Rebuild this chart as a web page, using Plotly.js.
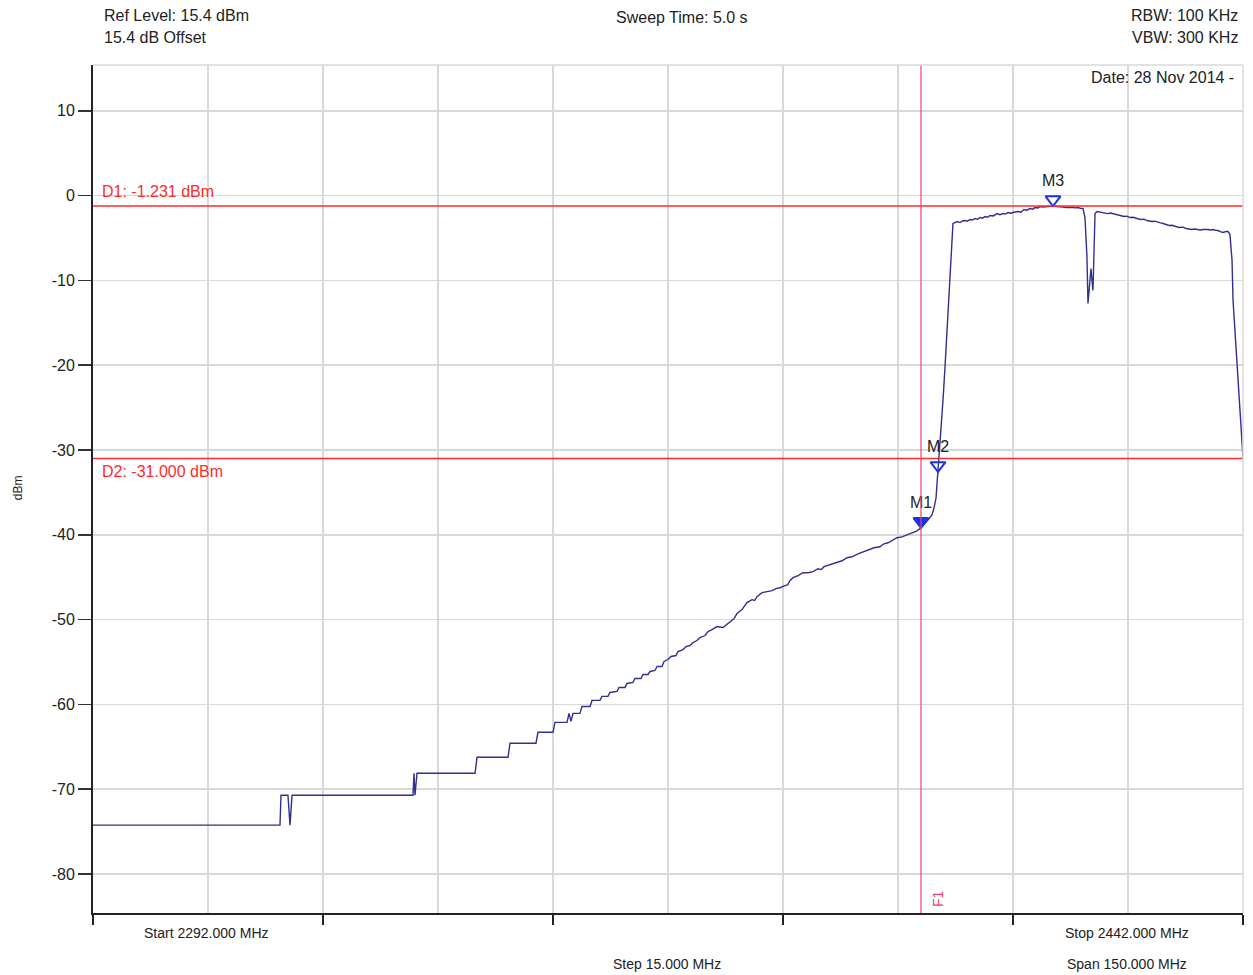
<!DOCTYPE html>
<html>
<head>
<meta charset="utf-8">
<script src="https://cdn.plot.ly/plotly-3.0.1.min.js"></script>
<style>
  html, body { margin: 0; padding: 0; background: #ffffff; }
  #chart { width: 1253px; height: 975px; }
</style>
</head>
<body>
<div id="chart"></div>
<script>
// ---------- DATA ----------
const freqMHz = [
  2292.00, 2316.39, 2316.52, 2317.43, 2317.70, 2317.96, 2333.74, 2333.87, 2334.00, 2334.26,
  2341.83, 2342.09, 2346.13, 2346.39, 2349.78, 2350.04, 2352.00, 2352.26, 2353.83, 2354.09,
  2354.35, 2354.61, 2355.52, 2355.78, 2356.83, 2357.09, 2358.13, 2358.39, 2359.17, 2359.43,
  2360.35, 2360.61, 2361.39, 2361.65, 2362.43, 2362.70, 2363.48, 2363.74, 2364.39, 2364.65,
  2365.30, 2365.57, 2366.22, 2366.48, 2367.00, 2367.39, 2368.04, 2368.30, 2368.96, 2369.35,
  2369.87, 2370.26, 2370.78, 2371.17, 2371.83, 2372.22, 2372.74, 2373.39, 2374.17, 2375.09,
  2375.60, 2376.00, 2376.65, 2377.30, 2377.96, 2378.30, 2378.61, 2379.26, 2379.91, 2380.57,
  2381.09, 2381.61, 2382.26, 2382.60, 2382.91, 2383.30, 2383.96, 2384.61, 2385.26, 2385.91,
  2386.57, 2387.00, 2387.35, 2388.13, 2388.91, 2389.70, 2390.35, 2391.00, 2391.78, 2392.43,
  2393.09, 2393.87, 2394.65, 2395.17, 2395.70, 2396.22, 2396.87, 2397.52, 2398.17, 2398.96,
  2399.48, 2400.00, 2400.52, 2401.04, 2401.43, 2401.70, 2401.96, 2402.09, 2402.22, 2402.35,
  2402.61, 2402.87, 2403.13, 2403.39, 2403.78, 2404.04, 2404.17, 2404.43, 2404.70, 2405.09,
  2405.40, 2405.74, 2406.05, 2406.39, 2406.70, 2407.04, 2407.40, 2407.70, 2408.00, 2408.35,
  2408.70, 2409.00, 2409.45, 2409.91, 2410.30, 2410.70, 2411.00, 2411.35, 2411.70, 2412.00,
  2412.35, 2412.65, 2413.05, 2413.43, 2413.80, 2414.22, 2414.55, 2414.87, 2415.20, 2415.52,
  2415.90, 2416.30, 2416.75, 2417.22, 2417.70, 2418.13, 2418.50, 2418.91, 2419.35, 2419.83,
  2420.15, 2420.48, 2420.80, 2421.13,
  2421.39, 2421.65, 2421.78, 2422.04, 2422.17, 2422.30, 2422.43, 2422.57, 2422.70, 2422.96,
  2423.30, 2423.61, 2424.00, 2424.39, 2424.70, 2425.04, 2425.40, 2425.70, 2426.10, 2426.48,
  2426.85, 2427.26, 2427.65, 2428.04, 2428.40, 2428.70, 2429.10, 2429.48, 2429.80, 2430.13,
  2430.50, 2430.91, 2431.25, 2431.57, 2431.95, 2432.35, 2432.75, 2433.13, 2433.45, 2433.78,
  2434.15, 2434.57, 2434.95, 2435.35, 2435.70, 2436.00, 2436.40, 2436.78, 2437.10, 2437.43,
  2437.75, 2438.09, 2438.40, 2438.74, 2439.05, 2439.39, 2439.78, 2440.04,
  2440.30, 2440.57, 2440.70, 2441.09, 2441.35, 2441.74, 2442.00
];
const levelDbm = [
  -74.24, -74.24, -70.71, -70.71, -74.24, -70.71, -70.71, -68.12, -70.71, -68.12,
  -68.12, -66.24, -66.24, -64.59, -64.59, -63.29, -63.29, -62.12, -62.12, -61.06,
  -62.00, -61.06, -61.06, -60.24, -60.24, -59.53, -59.53, -59.06, -59.06, -58.59,
  -58.47, -58.00, -58.00, -57.53, -57.41, -56.94, -56.94, -56.47, -56.47, -56.12,
  -56.00, -55.53, -55.53, -54.94, -54.71, -54.35, -54.24, -53.76, -53.53, -53.18,
  -53.06, -52.71, -52.47, -52.12, -51.88, -51.41, -51.18, -50.82, -50.94, -50.24,
  -49.90, -49.29, -48.82, -48.00, -47.65, -47.75, -47.29, -46.82, -46.71, -46.59,
  -46.35, -46.24, -46.00, -45.90, -45.41, -45.06, -44.82, -44.47, -44.47, -44.35,
  -44.00, -44.10, -43.76, -43.53, -43.29, -43.06, -42.71, -42.59, -42.24, -42.00,
  -41.76, -41.53, -41.41, -41.06, -40.94, -40.71, -40.35, -40.24, -40.00, -39.76,
  -39.53, -39.18, -38.71, -38.12, -37.65, -36.82, -35.65, -34.12, -32.59, -31.41,
  -27.65, -24.12, -20.24, -15.88, -10.35, -5.88, -3.29, -3.18, -3.06, -3.18,
  -3.00, -2.94, -3.02, -2.82, -2.88, -2.71, -2.80, -2.59, -2.66, -2.47,
  -2.55, -2.35, -2.40, -2.12, -2.25, -2.12, -2.18, -2.00, -2.08, -2.00,
  -1.92, -1.88, -1.97, -1.65, -1.72, -1.53, -1.60, -1.41, -1.46, -1.29,
  -1.35, -1.29, -1.26, -1.24, -1.30, -1.29, -1.36, -1.41, -1.37, -1.41,
  -1.45, -1.41, -1.49, -1.53,
  -2.59, -7.29, -12.71, -9.41, -8.59, -10.00, -11.18, -6.47, -2.12, -1.88,
  -1.95, -2.00, -2.08, -2.12, -2.05, -2.12, -2.20, -2.24, -2.35, -2.47,
  -2.42, -2.59, -2.55, -2.71, -2.76, -2.82, -2.78, -2.94, -3.00, -3.06,
  -3.02, -3.18, -3.22, -3.29, -3.40, -3.53, -3.50, -3.65, -3.70, -3.76,
  -3.72, -3.88, -3.95, -4.00, -3.94, -4.00, -4.06, -4.00, -3.96, -4.00,
  -4.05, -4.00, -4.08, -4.12, -4.25, -4.35, -4.24, -4.24,
  -4.59, -7.65, -12.35, -17.65, -22.12, -27.06, -30.94
];

const markerNames  = ['M1', 'M2', 'M3'];
const markerFreq   = [2400.00, 2402.22, 2417.22];
const markerLevel  = [-39.18, -32.59, -1.231];
const markerSymbol = ['triangle-down', 'triangle-down-open', 'triangle-down-open'];

const displayLevels = [-1.231, -31.0];
const displayLabels = ['D1: -1.231 dBm', 'D2: -31.000 dBm'];
const freqLineMHz = 2400.0;
const freqLineLabel = 'F1';

const yTickVals = [10, 0, -10, -20, -30, -40, -50, -60, -70, -80];
const yTickText = ['10', '0', '-10', '-20', '-30', '-40', '-50', '-60', '-70', '-80'];
const xRange = [2292, 2442];
const yRange = [-84.6, 15.4];

const headerLeft   = ['Ref Level: 15.4 dBm', '15.4 dB Offset'];
const headerCenter = 'Sweep Time: 5.0 s';
const headerRight  = ['RBW: 100 KHz', 'VBW: 300 KHz'];
const dateText     = 'Date: 28 Nov 2014 -';
const footerStart  = 'Start 2292.000 MHz';
const footerStop   = 'Stop 2442.000 MHz';
const footerStep   = 'Step 15.000 MHz';
const footerSpan   = 'Span 150.000 MHz';
const yUnit        = 'dBm';

// ---------- STYLE ----------
const FONT = 'Liberation Sans, Arial, sans-serif';
const GRID = '#d9d9d9';
const RED = '#ff2a2a';
const PLOT_H = 975 - 65 - 62;
const pxPerDb = PLOT_H / (yRange[1] - yRange[0]);
const MARKER_SIZE = 13;
const markerOffsetDb = (MARKER_SIZE / 2) / pxPerDb;

const traceLine = {
  x: freqMHz, y: levelDbm, type: 'scatter', mode: 'lines',
  line: { color: '#30308f', width: 1.4 }, hoverinfo: 'skip'
};
const traceMarkers = {
  x: markerFreq,
  y: markerLevel.map(v => v + markerOffsetDb),
  type: 'scatter', mode: 'markers+text',
  marker: { symbol: markerSymbol, size: MARKER_SIZE, color: '#1b33e8', line: { color: '#1b33e8', width: 2 } },
  text: markerNames, textposition: 'top center',
  textfont: { family: FONT, size: 16, color: '#222' }, hoverinfo: 'skip'
};

const shapes = [];
displayLevels.forEach(v => shapes.push({
  type: 'line', xref: 'paper', x0: 0, x1: 1, yref: 'y', y0: v, y1: v,
  line: { color: RED, width: 1.5 }
}));
shapes.push({
  type: 'line', xref: 'x', x0: freqLineMHz, x1: freqLineMHz, yref: 'paper', y0: 0, y1: 1,
  line: { color: '#f0406a', width: 1.2 }
});
shapes.push({ type: 'line', xref: 'paper', x0: 0, x1: 1, yref: 'paper', y0: 1, y1: 1, line: { color: GRID, width: 1.5 } });
shapes.push({ type: 'line', xref: 'paper', x0: 1, x1: 1, yref: 'paper', y0: 0, y1: 1, line: { color: GRID, width: 1.5 } });

const hdrFont = { family: FONT, size: 16, color: '#222' };
const ftFont = { family: FONT, size: 14, color: '#222' };
const annotations = [
  { text: headerLeft[0], xref: 'paper', yref: 'paper', x: 0.0078, y: 1.0578, xanchor: 'left', yanchor: 'middle', showarrow: false, font: hdrFont },
  { text: headerLeft[1], xref: 'paper', yref: 'paper', x: 0.0078, y: 1.0330, xanchor: 'left', yanchor: 'middle', showarrow: false, font: hdrFont },
  { text: headerCenter, xref: 'paper', yref: 'paper', x: 0.512, y: 1.0566, xanchor: 'center', yanchor: 'middle', showarrow: false, font: hdrFont },
  { text: headerRight[0], xref: 'paper', yref: 'paper', x: 0.9974, y: 1.0578, xanchor: 'right', yanchor: 'middle', showarrow: false, font: hdrFont },
  { text: headerRight[1], xref: 'paper', yref: 'paper', x: 0.9974, y: 1.0330, xanchor: 'right', yanchor: 'middle', showarrow: false, font: hdrFont },
  { text: dateText, xref: 'paper', yref: 'paper', x: 0.9939, y: 0.9847, xanchor: 'right', yanchor: 'middle', showarrow: false, font: hdrFont },
  { text: footerStart, xref: 'paper', yref: 'paper', x: 0.0991, y: -0.0236, xanchor: 'center', yanchor: 'middle', showarrow: false, font: ftFont },
  { text: footerStop, xref: 'paper', yref: 'paper', x: 0.899, y: -0.0236, xanchor: 'center', yanchor: 'middle', showarrow: false, font: ftFont },
  { text: footerStep, xref: 'paper', yref: 'paper', x: 0.499, y: -0.0601, xanchor: 'center', yanchor: 'middle', showarrow: false, font: ftFont },
  { text: footerSpan, xref: 'paper', yref: 'paper', x: 0.899, y: -0.0601, xanchor: 'center', yanchor: 'middle', showarrow: false, font: ftFont },
  { text: yUnit, xref: 'paper', yref: 'paper', x: -0.0652, y: 0.501, xanchor: 'center', yanchor: 'middle', textangle: -90, showarrow: false, font: { family: FONT, size: 12, color: '#222' } },
  { text: displayLabels[0], xref: 'paper', yref: 'y', x: 0.006, y: displayLevels[0], xanchor: 'left', yanchor: 'bottom', yshift: 4, showarrow: false, font: { family: FONT, size: 16, color: RED } },
  { text: displayLabels[1], xref: 'paper', yref: 'y', x: 0.006, y: displayLevels[1], xanchor: 'left', yanchor: 'top', yshift: -3, showarrow: false, font: { family: FONT, size: 16, color: RED } },
  { text: freqLineLabel, xref: 'x', yref: 'paper', x: freqLineMHz, y: 0.0165, xanchor: 'center', yanchor: 'middle', xshift: 17, textangle: -90, showarrow: false, font: { family: FONT, size: 14, color: '#f0406a' } }
];

const layout = {
  width: 1253, height: 975,
  margin: { l: 93, r: 10, t: 65, b: 62, pad: 0 },
  paper_bgcolor: '#ffffff', plot_bgcolor: '#ffffff',
  showlegend: false,
  font: { family: FONT, color: '#222' },
  xaxis: {
    range: xRange, tick0: xRange[0], dtick: 30,
    showgrid: true, gridcolor: GRID, gridwidth: 1.5,
    ticks: 'outside', ticklen: 10, tickwidth: 1.5, tickcolor: '#222',
    showticklabels: false, zeroline: false,
    showline: true, linecolor: '#222', linewidth: 2,
    minor: { tick0: xRange[0], dtick: 15, showgrid: true, gridcolor: GRID, gridwidth: 1.5, ticks: '' }
  },
  yaxis: {
    range: yRange, tickmode: 'array', tickvals: yTickVals, ticktext: yTickText,
    showgrid: true, gridcolor: GRID, gridwidth: 1.5,
    ticks: 'outside', ticklen: 13, tickwidth: 1.5, tickcolor: '#333',
    tickfont: { family: FONT, size: 16, color: '#222' },
    zeroline: false, showline: true, linecolor: '#222', linewidth: 2
  },
  shapes: shapes,
  annotations: annotations
};

Plotly.newPlot('chart', [traceLine, traceMarkers], layout, { staticPlot: true, displayModeBar: false });
</script>
</body>
</html>
